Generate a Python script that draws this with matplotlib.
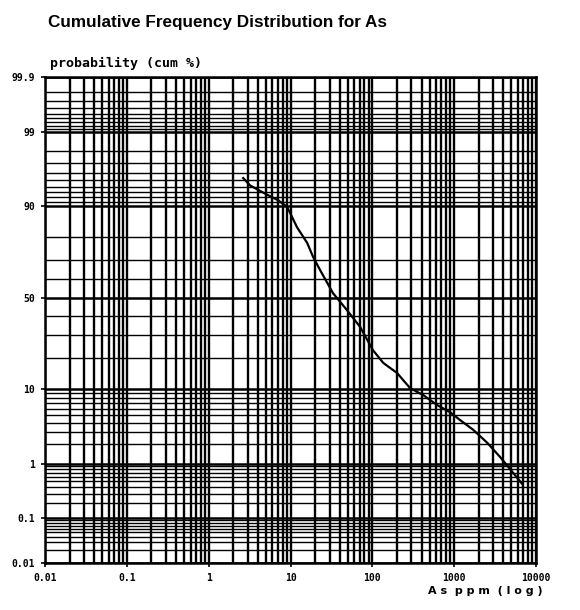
import numpy as np
import matplotlib
matplotlib.use("Agg")
import matplotlib.pyplot as plt
from statistics import NormalDist

# As 含量 (ppm) 与累计频率 (%)
as_ppm = [2.64, 3.2, 5.2, 7.0, 9.1, 12.0, 16.0, 18.9, 23.0, 33.0, 49.0, 71.0,
          102.0, 136.0, 201.0, 290.0, 418.0, 620.0, 893.0, 1183.0, 1706.0,
          2530.0, 3650.0, 5260.0, 6780.0]
cum_pct = [95.3, 94.2, 92.5, 91.4, 89.8, 83.8, 77.8, 71.5, 65.0, 52.5, 43.0, 34.0,
           23.0, 18.0, 14.5, 10.2, 8.6, 6.6, 5.4, 4.3, 3.2, 2.1, 1.27, 0.70, 0.45]

y_ticks = [0.01, 0.1, 1, 10, 50, 90, 99, 99.9]
y_ticklabels = ["0.01", "0.1", "1", "10", "50", "90", "99", "99.9"]
x_ticks = [0.01, 0.1, 1, 10, 100, 1000, 10000]
x_ticklabels = ["0.01", "0.1", "1", "10", "100", "1000", "10000"]

# 概率纸的网格线
low_grid = [round(m * d, 4) for d in (0.01, 0.1, 1) for m in range(1, 10)] + [10, 20, 30, 40, 50]
prob_grid = low_grid + [round(100 - v, 4) for v in low_grid if v < 50]
decade_grid = [m * 10.0 ** e for e in range(-2, 4) for m in range(1, 10)] + [10000]

nd = NormalDist()


def prob_fwd(p):
    p = np.clip(np.asarray(p, dtype=float), 1e-7, 100 - 1e-7)
    return np.vectorize(lambda v: nd.inv_cdf(v / 100.0), otypes=[float])(p)


def prob_inv(z):
    z = np.clip(np.asarray(z, dtype=float), -8, 8)
    return np.vectorize(lambda v: nd.cdf(v) * 100.0, otypes=[float])(z)


fig = plt.figure(figsize=(5.8, 6.1), dpi=100)
ax = fig.add_axes([45 / 580, 1 - 563 / 610, 491 / 580, 486 / 610])

ax.set_xscale("log")
ax.set_yscale("function", functions=(prob_fwd, prob_inv))
ax.set_xlim(0.01, 10000)
ax.set_ylim(0.01, 99.9)

for v in decade_grid:
    ax.axvline(v, color="black", lw=1.7, zorder=1)
for v in prob_grid:
    lw = 1.8 if v in y_ticks else 1.0
    ax.axhline(v, color="black", lw=lw, zorder=1)

ax.plot(as_ppm, cum_pct, color="black", lw=1.6, zorder=3)

ax.set_xticks(x_ticks)
ax.set_xticklabels(x_ticklabels)
ax.set_yticks(y_ticks)
ax.set_yticklabels(y_ticklabels)
ax.minorticks_off()
ax.tick_params(axis="both", length=3, width=1.2, labelsize=7, pad=4)
for lab in ax.get_xticklabels() + ax.get_yticklabels():
    lab.set_fontweight("bold")
    lab.set_family("DejaVu Sans Mono")

for s in ax.spines.values():
    s.set_linewidth(1.8)

fig.text(48 / 580, 1 - 22 / 610, "Cumulative Frequency Distribution for As",
         fontsize=12.3, family="Liberation Sans", fontweight="bold", va="center", ha="left")
fig.text(50 / 580, 1 - 63 / 610, "probability (cum %)",
         fontsize=9.5, family="DejaVu Sans Mono", fontweight="bold", va="center", ha="left")
fig.text(543 / 580, 1 - 591 / 610, "A s  p p m  ( l o g )",
         fontsize=8, family="DejaVu Sans", fontweight="bold", va="center", ha="right")

fig.savefig("out.png", dpi=100)
